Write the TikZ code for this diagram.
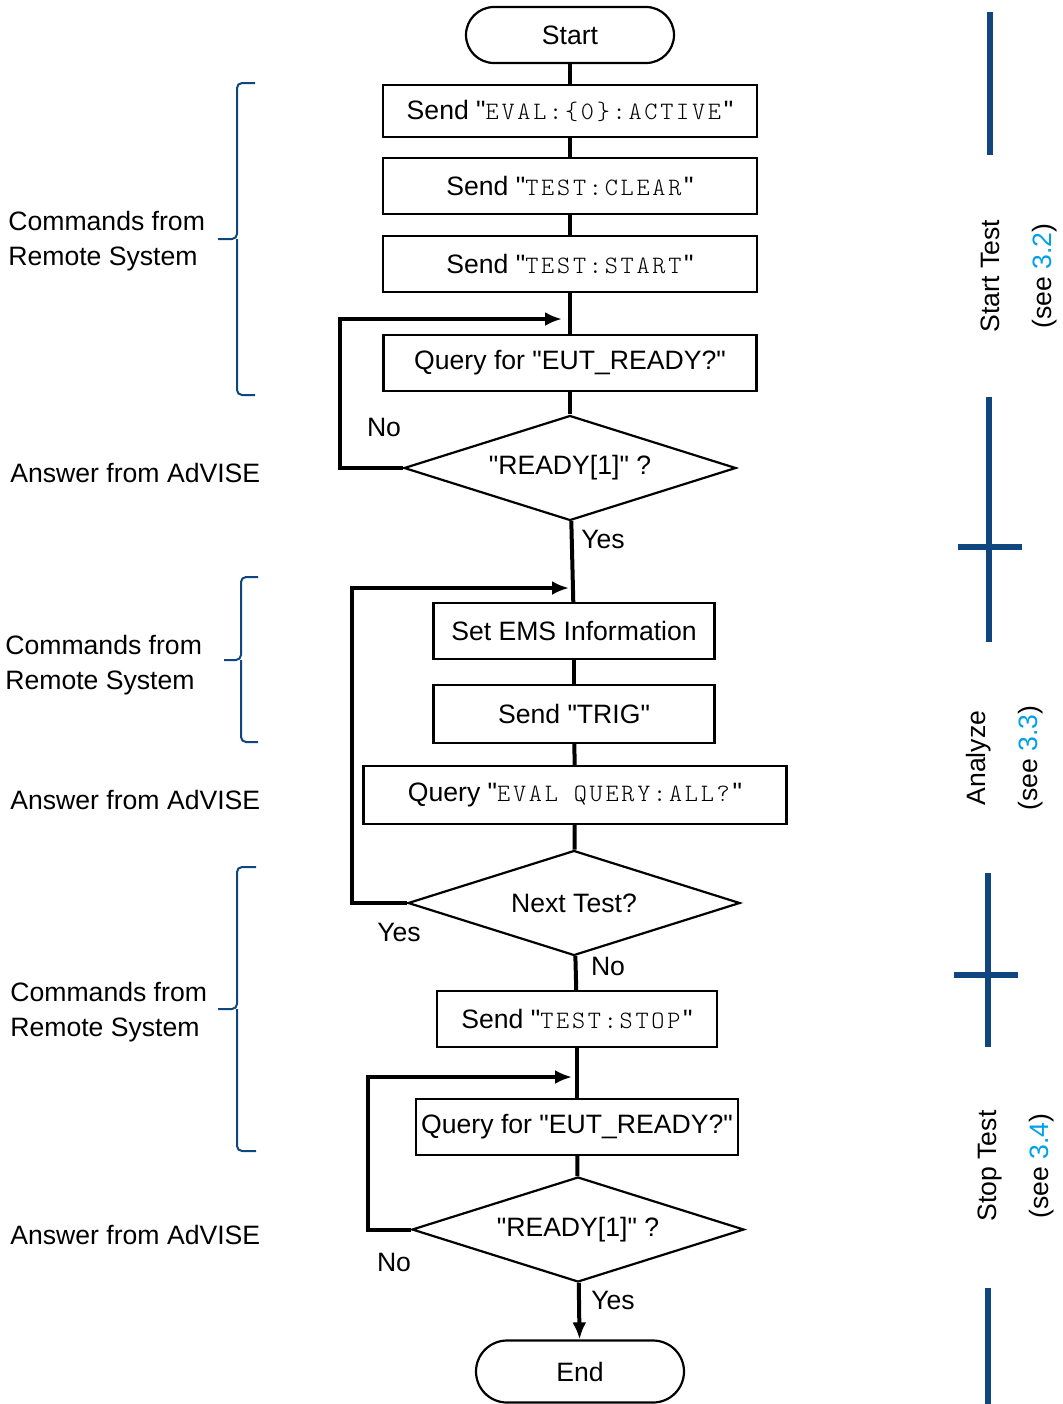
\documentclass[tikz,border=0pt]{standalone}
\usepackage{fontspec}
\setmainfont{Liberation Sans}[Ligatures=TeXOff]
\setmonofont{lmmonolt10-regular.otf}[Scale=0.94, LetterSpace=11]
\usepackage{tikz}
\usetikzlibrary{positioning,shapes.geometric,arrows.meta}
\definecolor{barblue}{RGB}{16,70,128}
\definecolor{refblue}{RGB}{0,160,233}

\begin{document}
\begin{tikzpicture}[x=0.5pt,y=-0.5pt,
  every node/.style={font=\fontsize{13.3}{17.5}\selectfont, inner sep=0pt},
  CMD/.style={rectangle, draw=black, line width=1.1pt, minimum height=28pt},
  TERM/.style={rectangle, rounded corners=14pt, draw=black, line width=1.1pt, minimum width=104pt, minimum height=28pt},
  ASK/.style={diamond, aspect=3.2, draw=black, line width=1.1pt, minimum width=166pt, minimum height=52.5pt},
  FLOW/.style={line width=2pt},
  BACK/.style={line width=2pt, -{Latex[length=8.5pt,width=7pt]}},
  BRK/.style={draw=barblue, line width=1pt, rounded corners=2.5pt},
  BAR/.style={draw=barblue, line width=3.2pt},
  SIDE/.style={rotate=90, align=center, font=\fontsize{13.3}{26}\selectfont},]
\useasboundingbox (0,0) rectangle (1063,1404);

%Nodes
\node[TERM] (0) at (570,35) {Start};
\node[CMD, minimum width=187pt, minimum height=26pt] (1) at (570,111) {Send "\texttt{EVAL:\{0\}:ACTIVE}"};
\node[CMD, minimum width=187pt] (2) at (570,186) {Send "\texttt{TEST:CLEAR}"};
\node[CMD, minimum width=187pt] (3) at (570,264) {Send "\texttt{TEST:START}"};
\node[CMD, minimum width=186.5pt] (4) at (570,363) {Query for "EUT\_READY?"};
\node[ASK] (5) at (570,468) {"READY[1]" ?};
\node[CMD, minimum width=140.5pt] (6) at (574,631) {Set EMS Information};
\node[CMD, minimum width=140.5pt, minimum height=29pt] (7) at (574,714) {Send "TRIG"};
\node[CMD, minimum width=211.5pt, minimum height=29pt] (8) at (575,795) {Query "\texttt{EVAL QUERY:ALL?}"};
\node[ASK] (9) at (574,903) {Next Test?};
\node[CMD, minimum width=140pt] (10) at (577,1019) {Send "\texttt{TEST:STOP}"};
\node[CMD, minimum width=161pt] (11) at (577,1127) {Query for "EUT\_READY?"};
\node[ASK] (12) at (578,1229.5) {"READY[1]" ?};
\node[TERM, minimum height=31pt, rounded corners=15.5pt] (13) at (580,1371.5) {End};

\node (no1) at (384,427) {No};
\node (yes1) at (603,539) {Yes};
\node (yes2) at (399,932) {Yes};
\node (no2) at (608,966) {No};
\node (no3) at (394,1262) {No};
\node (yes3) at (613,1300) {Yes};

\node[anchor=west, align=left] (c1) at (8,241) {Commands from\\Remote System};
\node[anchor=west] (a1) at (10,473) {Answer from AdVISE};
\node[anchor=west, align=left] (c2) at (5,665) {Commands from\\Remote System};
\node[anchor=west] (a2) at (10,800) {Answer from AdVISE};
\node[anchor=west, align=left] (c3) at (10,1012) {Commands from\\Remote System};
\node[anchor=west] (a3) at (10,1235) {Answer from AdVISE};

\node[SIDE] (p1) at (1019,276) {Start Test\\(see \textcolor{refblue}{3.2})};
\node[SIDE] (p2) at (1005,758) {Analyze\\(see \textcolor{refblue}{3.3})};
\node[SIDE] (p3) at (1016,1166) {Stop Test\\(see \textcolor{refblue}{3.4})};

%Lines
\draw[FLOW] (0) -- (1);
\draw[FLOW] (1) -- (2);
\draw[FLOW] (2) -- (3);
\draw[FLOW] (3) -- (4);
\draw[FLOW] (4) -- (5);
\draw[FLOW] (5) -- (6);
\draw[FLOW] (6) -- (7);
\draw[FLOW] (7) -- (8);
\draw[FLOW] (8) -- (9);
\draw[FLOW] (9) -- (10);
\draw[FLOW] (10) -- (11);
\draw[FLOW] (11) -- (12);
\draw[BACK] (12) -- (13);

\coordinate (r1) at (562,319);
\coordinate (r2) at (569,588);
\coordinate (r3) at (572,1077);
\draw[BACK] (5.west) -- ++(-63,0) |- (r1);
\draw[BACK] (9.west) -- ++(-55,0) |- (r2);
\draw[BACK] (12.west) -- ++(-43,0) |- (r3);

%Braces and bars
\draw[BRK] (255,83) -- (237,83) -- (237,239) -- (218,239) (237,239) -- (237,395) -- (255,395);
\draw[BRK] (258,577) -- (241,577) -- (241,660) -- (224,660) (241,660) -- (241,742) -- (258,742);
\draw[BRK] (256,867) -- (237,867) -- (237,1009) -- (218,1009) (237,1009) -- (237,1151) -- (256,1151);

\draw[BAR] (990,12) -- (990,155);
\draw[BAR] (989,397) -- (989,642) (958,547) -- (1022,547);
\draw[BAR] (988,873) -- (988,1047) (954,975) -- (1018,975);
\draw[BAR] (988,1288) -- (988,1404);

\end{tikzpicture}
\end{document}
